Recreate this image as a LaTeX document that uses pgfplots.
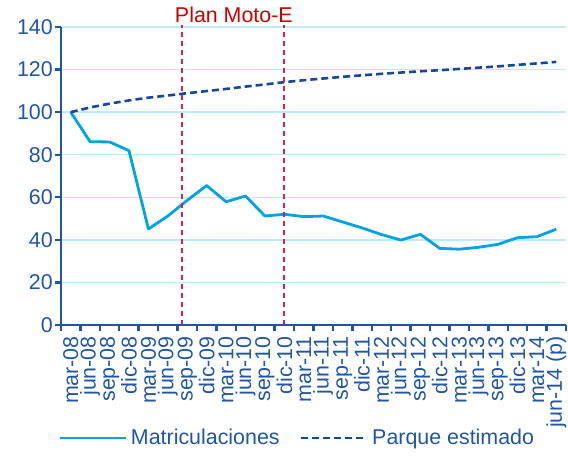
\documentclass[border=0pt]{standalone}
\usepackage{fontspec}
\setmainfont{Liberation Sans}
\usepackage{pgfplots}
\pgfplotsset{compat=1.18}
\definecolor{axblue}{RGB}{28,86,164}
\definecolor{txtblue}{RGB}{31,86,166}
\definecolor{parque}{RGB}{20,72,155}
\definecolor{matric}{RGB}{0,163,228}
\definecolor{gridblue}{RGB}{195,232,248}
\definecolor{plantext}{RGB}{204,0,0}
\definecolor{planline}{RGB}{214,30,90}
\newcommand{\bigfont}{\fontsize{21.4}{24}\selectfont}
\begin{document}
\begin{tikzpicture}
\path[use as bounding box] (0,0) rectangle (568pt,457pt);
\begin{axis}[
  at={(61pt,132pt)}, anchor=south west,
  width=505pt, height=298pt, scale only axis,
  xmin=-0.5, xmax=25.5, ymin=0, ymax=140,
  axis lines*=left,
  axis line style={axblue, line width=2.6pt},
  clip=false,
  tick align=outside,
  major tick length=6pt, minor tick length=6pt,
  ytick={0,20,...,140},
  xtick={0,...,25},
  xticklabels={mar-08,jun-08,sep-08,dic-08,mar-09,jun-09,sep-09,dic-09,mar-10,jun-10,sep-10,dic-10,mar-11,jun-11,sep-11,dic-11,mar-12,jun-12,sep-12,dic-12,mar-13,jun-13,sep-13,dic-13,mar-14,jun-14 (p)},
  minor xtick={-0.5,0.5,...,25.5},
  major x tick style={draw=none},
  minor x tick style={axblue, line width=2.4pt},
  major y tick style={axblue, line width=2.4pt},
  ymajorgrids,
  major grid style={gridblue, line width=1.3pt},
  tick label style={font=\bigfont, text=txtblue},
  /pgf/number format/assume math mode=true,
  xticklabel style={rotate=90, anchor=east, inner sep=0pt},
  xticklabel shift=5pt,
  yticklabel style={inner sep=0pt, xshift=-2pt},
  legend style={at={(-0.006,-0.379)}, anchor=west, draw=none, fill=none,
    font=\bigfont, text=txtblue, inner sep=0pt,
    /tikz/every even column/.append style={column sep=16pt},
    nodes={inner sep=4pt}},
  legend columns=2,
  legend image code/.code={\draw[#1] (0pt,0pt) -- (66pt,0pt);},
]
\addplot[matric, line width=2.8pt, line join=round] coordinates {
(0,100) (1,86.1) (2,86) (3,81.9) (4,45.1) (5,51.2) (6,58.6) (7,65.5) (8,57.9) (9,60.6)
(10,51.2) (11,52) (12,50.9) (13,51.2) (14,48.4) (15,45.6) (16,42.5) (17,39.9) (18,42.6) (19,36.0)
(20,35.6) (21,36.5) (22,37.9) (23,41.0) (24,41.5) (25,45.0)};
\addlegendentry{Matriculaciones}
\addplot[parque, line width=2.6pt, dash pattern=on 7pt off 4pt] coordinates {
(0,100) (1,102.2) (2,104) (3,105.5) (4,106.8) (5,107.8) (6,108.9) (7,109.9) (8,110.9) (9,112)
(10,113) (11,114.1) (12,115) (13,115.8) (14,116.6) (15,117.3) (16,118) (17,118.6) (18,119.2) (19,119.7)
(20,120.3) (21,120.9) (22,121.5) (23,122.2) (24,122.9) (25,123.6)};
\addlegendentry{Parque estimado}
\addplot[planline, line width=1.8pt, dash pattern=on 5pt off 4pt, forget plot] coordinates {(5.75,0) (5.75,141)};
\addplot[planline, line width=1.8pt, dash pattern=on 5pt off 4pt, forget plot] coordinates {(11,0) (11,141)};
\node[anchor=base, text=plantext, font=\bigfont, inner sep=0pt] at (axis cs:8.4,140) [yshift=4pt] {Plan Moto-E};
\end{axis}
\end{tikzpicture}
\end{document}
